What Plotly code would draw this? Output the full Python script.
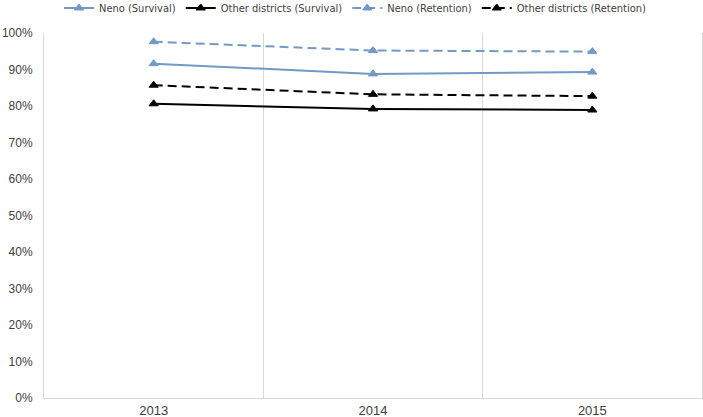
import plotly.graph_objects as go

years = ["2013", "2014", "2015"]
neno_survival = [91.6, 88.8, 89.3]
other_survival = [80.6, 79.2, 78.9]
neno_retention = [97.6, 95.2, 94.9]
other_retention = [85.7, 83.2, 82.7]

blue = "#7399C6"
black = "#000000"

series = [
    ("Neno (Survival)", neno_survival, blue, "solid"),
    ("Other districts (Survival)", other_survival, black, "solid"),
    ("Neno (Retention)", neno_retention, blue, "9px,5px"),
    ("Other districts (Retention)", other_retention, black, "9px,5px"),
]

fig = go.Figure()
for name, vals, color, dash in series:
    fig.add_trace(go.Scatter(
        x=years, y=vals, name=name, mode="lines+markers",
        line=dict(color=color, width=2, dash=dash),
        marker=dict(symbol="triangle-up", size=8, color=color,
                    line=dict(color=color, width=1)),
    ))

fig.update_layout(
    width=703, height=417,
    margin=dict(l=44, r=1, t=33, b=19, autoexpand=False),
    paper_bgcolor="white", plot_bgcolor="white",
    font=dict(family="DejaVu Sans Condensed, sans-serif", color="#595959", size=11),
    showlegend=True,
    legend=dict(orientation="h", xref="container", yref="paper",
                x=0.505, xanchor="center", y=1.0685, yanchor="middle",
                font=dict(size=11, color="#404040"), itemwidth=30,
                bgcolor="rgba(0,0,0,0)"),
    xaxis=dict(type="category", tickson="boundaries", showgrid=True, gridcolor="#D9D9D9",
               gridwidth=1, ticks="", showline=True, linecolor="#D9D9D9", range=[-0.5, 2.5],
               automargin=False,
               tickfont=dict(family="Liberation Sans, Arial, sans-serif", size=13, color="#404040")),
    yaxis=dict(range=[0, 100], dtick=10, ticksuffix="%", showgrid=False, zeroline=False,
               showline=True, mirror=True, linecolor="#D9D9D9", ticks="",
               ticklabelstandoff=8, automargin=False,
               tickfont=dict(family="Liberation Sans, Arial, sans-serif", size=12, color="#404040")),
)

fig.write_html("out.html", config={"displayModeBar": False},
               post_script="document.body.style.margin='0';document.body.style.overflow='hidden';")
